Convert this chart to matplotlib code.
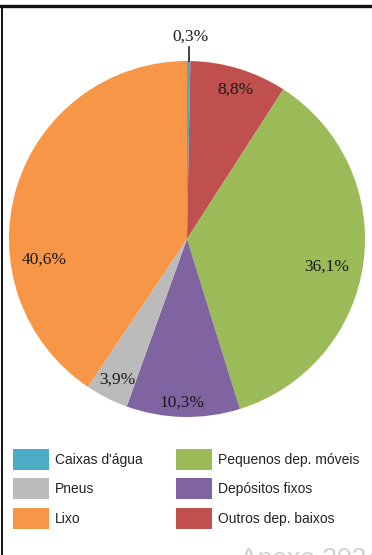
import numpy as np
import matplotlib
matplotlib.use('agg')
from matplotlib import pyplot as plt
from matplotlib.patches import Patch
from matplotlib.lines import Line2D

# share of each breeding-site type, clockwise from the top
categories = ['Caixas d\'água', 'Outros dep. baixos', 'Pequenos dep. móveis',
              'Depósitos fixos', 'Pneus', 'Lixo']
shares = [0.3, 8.8, 36.1, 10.3, 3.9, 40.6]
colors = ['#4BACC6', '#C0504D', '#9BBB59', '#8064A2', '#BBBBBB', '#F79646']
legend_order = ['Caixas d\'água', 'Pneus', 'Lixo',
                'Pequenos dep. móveis', 'Depósitos fixos', 'Outros dep. baixos']

# label placement: (radius fraction, angle shift in degrees from wedge middle)
label_place = [None, (0.88, -1), (0.80, -3.5), (0.92, -0.5), (0.88, 0.3), (0.81, 25.3)]

W, H = 372, 555
fig = plt.figure(figsize=(W / 100, H / 100), dpi=100)
ax = fig.add_axes([0, 0, 1, 1])

cx, cy, r = 187, H - 239, 178
wedges, _ = ax.pie(shares, colors=colors, startangle=90, counterclock=False,
                   center=(cx, cy), radius=r, frame=True,
                   wedgeprops={'linewidth': 0})
ax.set_xlim(0, W)
ax.set_ylim(0, H)
ax.axis('off')

serif = ['Liberation Serif', 'DejaVu Serif']
for w, val, place in zip(wedges, shares, label_place):
    mid = np.deg2rad((w.theta1 + w.theta2) / 2)
    txt = ('%.1f%%' % val).replace('.', ',')
    if place is None:
        # tiny slice: label above the pie with a leader line
        x0 = cx + r * np.cos(mid)
        ax.plot([x0, x0], [cy + r, cy + r + 14], color='#222222', lw=1.2)
        ax.text(x0 + 2, cy + r + 16, txt, ha='center', va='bottom',
                fontsize=12.5, family=serif, color='#1a1a1a')
        continue
    frac, shift = place
    a = mid + np.deg2rad(shift)
    ax.text(cx + frac * r * np.cos(a), cy + frac * r * np.sin(a), txt,
            ha='center', va='center', fontsize=12.5, family=serif, color='#1a1a1a')

handles = [Patch(facecolor=colors[categories.index(c)], label=c) for c in legend_order]
leg = ax.legend(handles=handles, ncol=2, loc='upper left', frameon=False,
                bbox_to_anchor=(13, H - 449), bbox_transform=ax.transData,
                borderpad=0, borderaxespad=0, handlelength=2.6, handleheight=1.95,
                handletextpad=0.45, labelspacing=0.61, columnspacing=2.35,
                prop={'family': 'Liberation Sans', 'size': 10})
for t in leg.get_texts():
    t.set_color('#222222')

# frame lines on the top and left edges
fig.add_artist(Line2D([0, 1], [1 - 5.5 / H, 1 - 5.5 / H], color='#111111', lw=2.4,
                      transform=fig.transFigure))
fig.add_artist(Line2D([1.5 / W, 1.5 / W], [0, 1 - 5.5 / H], color='#111111', lw=1.4,
                      transform=fig.transFigure))

ax.text(240, H - 547, 'Anexo 2024', ha='left', va='top', fontsize=19,
        family='Liberation Sans', color='#d0d0d0', clip_on=False)

fig.savefig('out.png', dpi=100)
